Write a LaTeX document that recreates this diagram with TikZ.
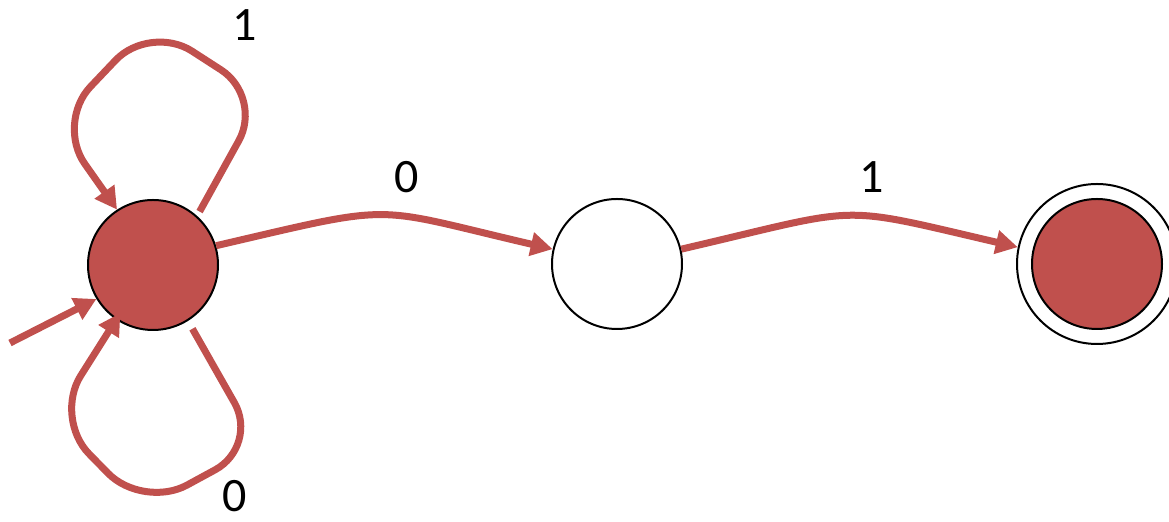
\documentclass[tikz,border=0pt]{standalone}
\usepackage{fontspec}
\setmainfont{Carlito}
\usetikzlibrary{arrows.meta}
\definecolor{accent}{HTML}{C0504D}
\begin{document}
\begin{tikzpicture}[x=0.5pt,y=-0.5pt,
  state/.style={circle,draw=black,line width=1pt,minimum size=65pt,inner sep=0pt},
  edge/.style={draw=accent,line width=3.5pt,-{Triangle[length=11pt,width=11.5pt]}},
  lbl/.style={font=\fontsize{24}{28}\selectfont,inner sep=0pt}]
\useasboundingbox (0,0) rectangle (1169,522);
\node[state,fill=accent] (A) at (153,265) {};
\node[state] (B) at (617,264) {};
\node[state,fill=accent] (C) at (1097,264) {};
\node[state,minimum size=80pt] (Cout) at (1097,264) {};
\coordinate (init) at (10,343);
\draw[edge] (init) -- (A.-149);
\draw[edge] (A.17) .. controls +(185,-43) and +(-185,-43) .. (B.167);
\draw[edge] (B.13) .. controls +(185,-43) and +(-185,-43) .. (Cout.168);
\draw[edge,rounded corners=25pt,shorten <=2.5pt] (A.48) -- (263,97) -- (150,24) -- (56,123) -- (A.123);
\draw[edge,rounded corners=25pt,shorten <=4.5pt,shorten >=-4pt] (A.-58) -- (259,446) -- (143,509) -- (54,418) -- (A.-124);
\node[lbl] (l1) at (245,25) {1};
\node[lbl] (l2) at (235,496) {0};
\node[lbl] (l3) at (407,177) {0};
\node[lbl] (l4) at (872,177) {1};
\end{tikzpicture}
\end{document}
